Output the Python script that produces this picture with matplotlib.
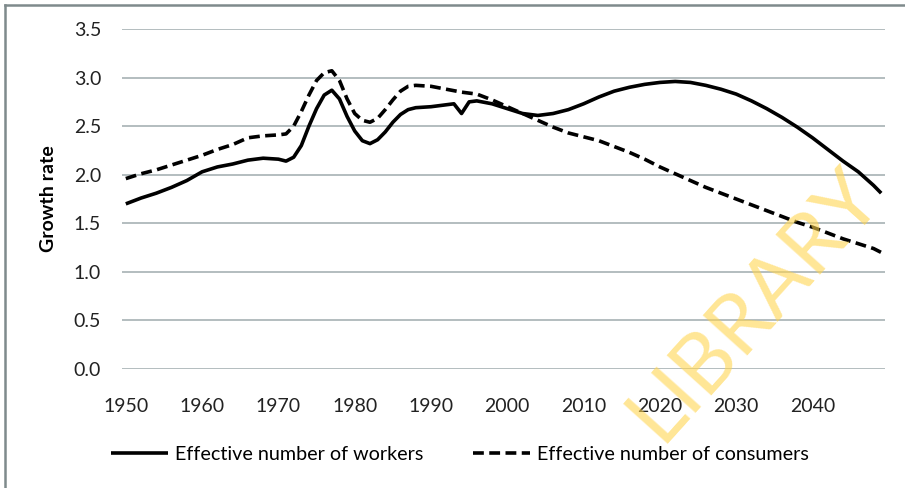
import matplotlib
matplotlib.use("Agg")
import matplotlib.pyplot as plt
from matplotlib.lines import Line2D

plt.rcParams['font.family'] = ['Lato', 'DejaVu Sans']

years_workers = [1950, 1952, 1954, 1956, 1958, 1960, 1962, 1964, 1966, 1968,
                 1970, 1971, 1972, 1973, 1974, 1975, 1976, 1977, 1978, 1979,
                 1980, 1981, 1982, 1983, 1984, 1985, 1986, 1987, 1988, 1990,
                 1992, 1993, 1994, 1995, 1996, 1998, 2000, 2002, 2004, 2006,
                 2008, 2010, 2012, 2014, 2016, 2018, 2020, 2022, 2024, 2026,
                 2028, 2030, 2032, 2034, 2036, 2038, 2040, 2042, 2044, 2046,
                 2048, 2049]
workers = [1.70, 1.76, 1.81, 1.87, 1.94, 2.03, 2.08, 2.11, 2.15, 2.17,
           2.16, 2.14, 2.18, 2.30, 2.50, 2.68, 2.82, 2.87, 2.78, 2.60,
           2.45, 2.35, 2.32, 2.36, 2.44, 2.54, 2.62, 2.67, 2.69, 2.70,
           2.72, 2.73, 2.63, 2.75, 2.76, 2.73, 2.68, 2.63, 2.61, 2.63,
           2.67, 2.73, 2.80, 2.86, 2.90, 2.93, 2.95, 2.96, 2.95, 2.92,
           2.88, 2.83, 2.76, 2.68, 2.59, 2.49, 2.38, 2.26, 2.14, 2.03,
           1.89, 1.81]

years_consumers = [1950, 1952, 1954, 1956, 1958, 1960, 1962, 1964, 1966, 1968,
                   1970, 1971, 1972, 1973, 1974, 1975, 1976, 1977, 1978, 1979,
                   1980, 1981, 1982, 1983, 1984, 1985, 1986, 1987, 1988, 1990,
                   1992, 1994, 1996, 1998, 2000, 2002, 2004, 2006, 2008, 2010,
                   2012, 2014, 2016, 2018, 2020, 2022, 2024, 2026, 2028, 2030,
                   2032, 2034, 2036, 2038, 2040, 2042, 2044, 2046, 2048, 2049]
consumers = [1.96, 2.01, 2.05, 2.10, 2.15, 2.20, 2.26, 2.31, 2.38, 2.40,
             2.41, 2.42, 2.50, 2.65, 2.82, 2.97, 3.05, 3.07, 2.97, 2.78,
             2.63, 2.56, 2.54, 2.58, 2.67, 2.77, 2.86, 2.91, 2.92, 2.91,
             2.88, 2.85, 2.83, 2.77, 2.70, 2.63, 2.56, 2.49, 2.43, 2.39,
             2.35, 2.29, 2.23, 2.16, 2.08, 2.01, 1.94, 1.87, 1.81, 1.75,
             1.69, 1.63, 1.57, 1.51, 1.46, 1.40, 1.34, 1.29, 1.24, 1.20]

x_ticks = [1950, 1960, 1970, 1980, 1990, 2000, 2010, 2020, 2030, 2040]
y_ticks = [0.0, 0.5, 1.0, 1.5, 2.0, 2.5, 3.0, 3.5]

fig = plt.figure(figsize=(9.05, 4.88), dpi=100)
ax = fig.add_axes([122 / 905, 1 - 369 / 488, (885 - 122) / 905, (369 - 29) / 488])

ax.plot(years_workers, workers, color="black", lw=2.6,
        solid_capstyle="butt", label="Effective number of workers")
ax.plot(years_consumers, consumers, color="black", lw=2.6, linestyle=(0, (3, 1.5)),
        dash_capstyle="butt", label="Effective number of consumers")

ax.set_xlim(1949.5, 2049.5)
ax.set_ylim(0, 3.5)
ax.set_xticks(x_ticks)
ax.set_yticks(y_ticks)
ax.set_yticklabels([f"{v:.1f}" for v in y_ticks])
ax.tick_params(length=0, labelsize=14, colors="#222222")
ax.tick_params(axis="x", pad=21)
ax.tick_params(axis="y", pad=15)
for s in ax.spines.values():
    s.set_visible(False)
ax.grid(axis="y", color="#AEB8BA", lw=1.3)
ax.set_axisbelow(True)
ax.set_ylabel("Growth rate", fontsize=14, fontweight="bold", labelpad=12)

ax.legend(loc="upper left", bbox_to_anchor=(-0.038, -0.175), ncol=2, frameon=False,
          fontsize=14.2, handlelength=2.9, handletextpad=0.35, columnspacing=2.5)

# frame around the figure
fig.add_artist(Line2D([5 / 905, 5 / 905], [0, 1 - 5 / 488], color="#7F8A8C", lw=1.8))
fig.add_artist(Line2D([5 / 905, 1], [1 - 5 / 488, 1 - 5 / 488], color="#7F8A8C", lw=1.8))

# watermark
fig.text(755 / 905, 1 - 305 / 488, "LIBRARY", fontsize=60, color="#FFD54F",
         alpha=0.6, rotation=48, ha="center", va="center", rotation_mode="anchor")

fig.savefig("out.png", dpi=100)
